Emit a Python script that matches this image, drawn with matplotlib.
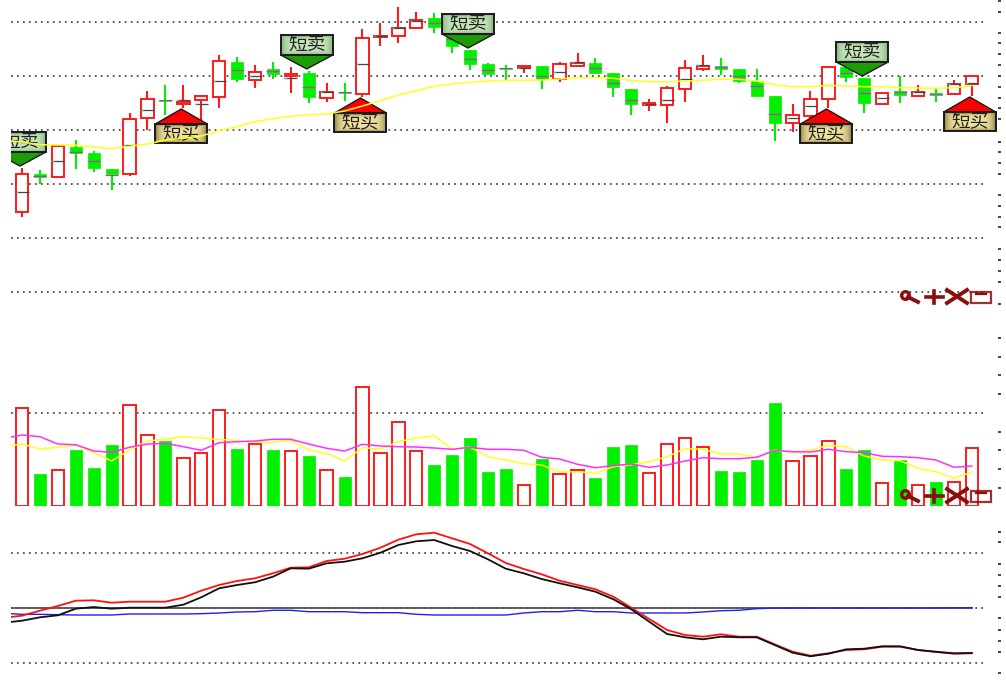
#!/usr/bin/env python3
"""Stock panel: candles, volume and MACD, with the buy/sell flags of the source screen."""

import matplotlib
matplotlib.use("Agg")
import matplotlib.pyplot as plt
import numpy as np
from matplotlib.patches import Polygon, Rectangle

plt.rcParams["font.family"] = ["Noto Sans CJK SC", "DejaVu Sans"]

# The source has no scale labels, so values are levels read off the picture,
# counted downward from the top of the image.
HIGH = [168, 170, 146, 140, 151, 169, 113, 91, 85, 85, 96, 55, 57, 65, 62, 67, 71, 83,
        83, 29, 23, 7, 12, 13, 35, 50, 63, 65, 65, 66, 62, 53, 58, 73, 89, 99, 86,
        60, 55, 58, 69, 69, 96, 104, 91, 67, 67, 78, 93, 76, 85, 89, 80, 76]
LOW = [217, 184, 177, 169, 172, 190, 176, 130, 115, 108, 122, 108, 82, 88, 79, 93, 103, 102,
       101, 97, 46, 43, 29, 33, 53, 70, 74, 80, 73, 89, 82, 67, 74, 97, 115, 111, 123,
       102, 71, 75, 83, 96, 141, 132, 123, 108, 82, 113, 104, 103, 97, 102, 94, 96]
BODY_TOP = [174, 174, 146, 147, 153, 169, 119, 99, 99.5, 102, 96, 61, 62, 72, 69, 74, 73, 92,
            91.5, 38, 36, 28, 20, 18, 35, 50, 64, 67.5, 66, 66, 64, 63, 63, 73, 89, 103, 88,
            68, 66, 66, 69, 81, 96, 115, 99, 67, 67, 78, 93, 91, 92, 93, 84, 76]
BODY_BOTTOM = [212, 177, 177, 153, 168, 174, 174, 118, 100.5, 104, 100, 97, 79, 80, 74, 76, 97, 98,
               92.5, 94, 37, 36, 28, 27, 46, 64, 74, 68.5, 68, 79, 79, 66, 73, 87, 104, 105, 105,
               89, 69, 69, 81, 96, 123, 123, 116, 99, 77, 103, 104, 95, 96, 95, 94, 84]
MID = [192, 176, 161, 152, 161, 175, 145, 110, 100, 100, 104, 81, 70, 76, 71, 78, 87, 92,
       92, 64, 36, 28, 21, 23, 39, 59, 70, 68, 68, 76, 72, 62, 68, 83, 100, 104, 100,
       79, 65, 67, 76, 86, 114, 118, 106, 85, 73, 93, 98, 92, 92, 94, 84, 83]
IS_UP = [1, 0, 1, 0, 0, 0, 1, 1, 0, 1, 1, 1, 0, 1, 0, 1, 0, 1,
         0, 1, 1, 1, 1, 0, 0, 0, 0, 0, 1, 0, 1, 1, 0, 0, 0, 1, 1,
         1, 1, 0, 0, 0, 0, 1, 1, 1, 0, 0, 1, 0, 1, 0, 1, 1]
# the moving averages start one bar earlier than the candles
PRICE_MA = [140, 142, 144.7, 145, 145.3, 147, 148.7, 146.3, 144, 140, 138.3, 136, 130.7, 126.7,
            121.7, 118.7, 116.3, 114.7, 114, 111, 106, 100.7, 95, 90.7, 86.3, 84, 82.3, 81,
            80.3, 80.3, 80, 79, 77.7, 77.7, 78.3, 80.3, 81.7, 82, 81, 80.3, 79.3, 79.3, 81,
            84.7, 86.7, 86.7, 85.3, 86, 86.7, 86.7, 87.7, 88, 88.3, 87.7, 85.7]
SELL_FLAGS = [0, 16, 25, 47]
BUY_FLAGS = [9, 19, 45, 53]

VOLUME_TOP = [408, 474, 470, 450, 468, 445, 405, 435, 441, 458, 453, 410, 449, 444, 450, 451, 456, 470,
              477, 387, 453, 422, 451, 465, 455, 438, 472, 469, 485, 459, 474, 470, 478, 447, 445, 473, 444,
              438, 447, 471, 472, 460, 403, 461, 456, 441, 469, 450, 483, 460, 485, 482, 482, 448]
VOLUME_MA_FAST = [446.7, 444, 449, 447.3, 445, 452.7, 461, 450, 441, 439, 436.7, 438, 439.3, 440.7, 442.3,
                  442.3, 440.3, 450, 453.3, 461, 447.7, 449, 441.7, 438, 435.7, 449.3, 447, 456.7, 460,
                  463.7, 465, 472, 471.7, 473.3, 466.7, 464.7, 461.7, 456.7, 448.7, 449.3, 454, 454, 457.3,
                  450, 452.7, 450, 445.3, 446.7, 456, 460, 460.7, 468.3, 471.7, 478.3, 472]
VOLUME_MA_SLOW = [438.3, 435, 436.7, 444, 444.7, 451, 452.3, 447.3, 444, 443.3, 446.7, 450.3, 442.7, 441.7,
                  441, 439.3, 439.3, 444, 448.3, 451, 444.3, 446, 446.7, 447, 448, 449.3, 447.3, 449.3,
                  449.3, 450.3, 457.3, 459, 464.3, 467.7, 465.7, 464, 467.3, 465, 461, 457.7, 458.7, 458.7,
                  457.3, 450.3, 451.7, 452, 449.3, 451.7, 452.7, 456.3, 456.7, 457.7, 460, 467.3, 466]

MACD_RED = [617.7, 615.7, 610.7, 606, 600.7, 600.3, 602.7, 601.7, 601.7, 601.7, 597.7, 590.7, 585, 581,
            578.3, 573.3, 567.7, 567.3, 561, 558.7, 554, 547.7, 539.7, 534.3, 532.7, 538.3, 544, 553.3,
            563, 569, 574.3, 580.7, 585, 589.3, 596.7, 607.7, 619, 630, 635, 636.7, 634.3, 636.7,
            636.7, 644.3, 651.7, 655.7, 653.3, 650, 649.3, 646.7, 646.7, 650, 652, 653.7, 653.3]
MACD_BLACK = [622.7, 620.7, 617.3, 615.3, 608.7, 607, 608.7, 607.7, 607.7, 607.7, 604.7, 597.3, 588.3, 585,
              582.3, 576.7, 568.3, 568.7, 563.3, 561.7, 558.3, 552.7, 545, 541.3, 540, 546, 551, 559.3,
              568.7, 573.3, 579, 583.3, 587.3, 591.7, 599.3, 609.3, 621.7, 634, 637.3, 639.3, 636.7, 637.3,
              637.3, 645, 652.7, 656.3, 653.7, 649.3, 648.7, 646.3, 646.3, 650, 651.7, 653.3, 653]
MACD_BLUE = [613.3, 614.3, 614.3, 614.7, 615, 615, 615, 614, 614, 614, 614, 613.7, 613, 612, 611.7,
             610.3, 610.3, 611.7, 611.7, 611.7, 612.7, 612.7, 612.7, 614.3, 615, 615, 615, 615, 615,
             613, 611.7, 611.7, 610.3, 611.7, 611.7, 613, 613, 613, 613, 612, 610.7, 610.3, 608.7,
             608, 608, 608, 608, 608, 608, 608, 608, 608, 608, 607.7, 607.7]

PRICE_GRID = [22, 76, 130, 184, 238, 292]
VOLUME_GRID = [413]
MACD_GRID = [553, 607.7, 663]
MACD_ZERO = 607.7
VOLUME_BASE = 505.5

PRICE_TICKS = [1, 12, 33, 43, 54, 65, 76, 87, 98, 108, 119, 142, 152, 163, 174, 195, 206, 217,
               227, 249, 260, 271, 282]
VOLUME_TICKS = [304, 338, 357, 375, 394, 432, 450, 469, 488]
MACD_TICKS = [532, 542, 564, 575, 586, 597, 618, 630, 641, 652, 673]

# layout, in pixels of the 1006x682 image
W, H = 1006, 682
LEFT, RIGHT = 11, 998
GRID_END = 985
X0, STEP = 22, 17.92
PANES = [(0, 295), (295, 506), (506, 682)]

RED = "#ff1a1a"
GREEN = "#00f000"
DARK_RED = "#8b0d0d"


def to_x(px):
    return (px - X0) / STEP


def make_pane(fig, top, bottom, ticks, grid):
    ax = fig.add_axes([LEFT / W, 1 - bottom / H, (RIGHT - LEFT) / W, (bottom - top) / H])
    ax.set_xlim(to_x(LEFT), to_x(RIGHT))
    ax.set_ylim(bottom, top)
    for spine in ax.spines.values():
        spine.set_visible(False)
    ax.set_xticks([])
    ax.yaxis.tick_right()
    ax.set_yticks(ticks)
    ax.set_yticklabels([])
    ax.tick_params(axis="y", length=2.2, width=1.4, color="#444444")
    ax.hlines(grid, to_x(LEFT), to_x(GRID_END), colors="#444444", lw=1.25,
              linestyles=(0, (1.0, 2.45)), zorder=1)
    return ax


def gradient_box(ax, x0, x1, y0, y1, center, edge):
    # light middle fading to a darker rim, like the bitmap flags
    u = np.linspace(-1, 1, 40)
    v = np.linspace(-1, 1, 20)
    d = np.clip(np.maximum(np.abs(u)[None, :] ** 5, np.abs(v)[:, None] ** 4), 0, 1)[..., None]
    c0 = np.array(matplotlib.colors.to_rgb(center))
    c1 = np.array(matplotlib.colors.to_rgb(edge))
    ax.imshow(c0 * (1 - d) + c1 * d, extent=(x0, x1, y1, y0), aspect="auto",
              interpolation="bilinear", zorder=3)
    ax.add_patch(Rectangle((x0, y0), x1 - x0, y1 - y0, fill=False, ec="#1a1a1a", lw=1.4, zorder=3.2))


def draw_flag(ax, i, tip, kind):
    half = 26 / STEP
    i = i - 2 / STEP  # the bitmap sits a touch left of its bar
    if kind == "sell":
        box = (tip - 34, tip - 14)
        tri = [(i - half, tip - 14), (i + half, tip - 14), (i, tip)]
        label, tri_col, center, edge = "短卖", "#1c9c06", "#c6e6ba", "#8cb684"
    else:
        box = (tip + 15, tip + 34)
        tri = [(i - half, tip + 15), (i + half, tip + 15), (i, tip)]
        label, tri_col, center, edge = "短买", "#ff0000", "#efe29e", "#94854c"
    ax.add_patch(Polygon(tri, closed=True, fc=tri_col, ec="#1a1a1a", lw=1.0, zorder=3))
    gradient_box(ax, i - half, i + half, box[0], box[1], center, edge)
    ax.text(i, (box[0] + box[1]) / 2, label, ha="center", va="center", fontsize=13.5,
            color="#222222", zorder=3.5, clip_on=True)


def draw_candles(ax):
    xs = np.arange(len(HIGH))
    up = np.array(IS_UP, dtype=bool)
    high, low = np.array(HIGH), np.array(LOW)
    top, bot = np.array(BODY_TOP), np.array(BODY_BOTTOM)
    mid = np.array(MID)
    ax.vlines(xs[up], high[up], low[up], colors=RED, lw=1.5, zorder=2)
    ax.vlines(xs[~up], high[~up], low[~up], colors=GREEN, lw=1.5, zorder=2)
    ax.bar(xs[up], (bot - top)[up], bottom=top[up], width=12.5 / STEP,
           facecolor="white", edgecolor=RED, lw=1.4, zorder=2.1)
    ax.bar(xs[~up], (bot - top)[~up], bottom=top[~up], width=12 / STEP,
           facecolor=GREEN, edgecolor=GREEN, lw=0.5, zorder=2.1)
    half = 6.5 / STEP
    ax.hlines(mid[up], xs[up] - half, xs[up] + half, colors="#444444", lw=0.9, zorder=2.2)
    ax.hlines(mid[up], xs[up] - half, xs[up] - half + 2.5 / STEP, colors="#30c0c8", lw=0.9, zorder=2.3)
    ax.hlines(mid[~up], xs[~up] - half, xs[~up] + half, colors="#b048a8", lw=0.9, zorder=2.2)


def draw_toolbar(ov, row):
    # magnifier, plus, cross and window icons sitting over each pane
    ov.plot([905], [row - 1], "o", ms=5.5, mfc="none", mec=DARK_RED, mew=2.4, zorder=6)
    ov.plot([908, 918], [row + 1, row + 6], color=DARK_RED, lw=2.8, zorder=6)
    ov.plot([926, 943], [row + 1, row + 1], color=DARK_RED, lw=2.6, zorder=6)
    ov.plot([934.5, 934.5], [row - 5, row + 7], color=DARK_RED, lw=2.6, zorder=6)
    ov.plot([947, 967], [row - 6, row + 7], color=DARK_RED, lw=2.8, zorder=6)
    ov.plot([947, 967], [row + 7, row - 6], color=DARK_RED, lw=2.8, zorder=6)
    ov.add_patch(Rectangle((971, row - 4), 20, 11, fill=False, ec=DARK_RED, lw=1.6, alpha=0.85, zorder=6))
    ov.plot([976, 986], [row - 2, row - 2], color=DARK_RED, lw=1.6, zorder=6)


def main():
    fig = plt.figure(figsize=(W / 100, H / 100), dpi=100, facecolor="white")

    price = make_pane(fig, *PANES[0], PRICE_TICKS, PRICE_GRID)
    draw_candles(price)
    for i in SELL_FLAGS:
        draw_flag(price, i, HIGH[i] - 2, "sell")
    for i in BUY_FLAGS:
        draw_flag(price, i, LOW[i] + 1, "buy")
    ma_x = np.arange(-1, len(HIGH))
    price.plot(ma_x, PRICE_MA, color="#ffff20", lw=1.1, zorder=4)
    price.set_xlim(to_x(LEFT), to_x(RIGHT))
    price.set_ylim(PANES[0][1], PANES[0][0])

    vol = make_pane(fig, *PANES[1], VOLUME_TICKS, VOLUME_GRID)
    xs = np.arange(len(VOLUME_TOP))
    top = np.array(VOLUME_TOP, dtype=float)
    up = np.array(IS_UP, dtype=bool)
    vol.bar(xs[up], (VOLUME_BASE - top)[up], bottom=top[up], width=12.5 / STEP,
            facecolor="white", edgecolor=RED, lw=1.4, zorder=2)
    vol.bar(xs[~up], (VOLUME_BASE - top)[~up], bottom=top[~up], width=12 / STEP,
            facecolor=GREEN, edgecolor=GREEN, lw=0.5, zorder=2)
    vol.plot(ma_x, VOLUME_MA_FAST, color="#ffff20", lw=1.1, zorder=3)
    vol.plot(ma_x, VOLUME_MA_SLOW, color="#ff30ff", lw=1.1, zorder=3.1)

    macd = make_pane(fig, *PANES[2], MACD_TICKS, MACD_GRID)
    macd.plot([to_x(LEFT), 53], [MACD_ZERO, MACD_ZERO], color="#555555", lw=1.3, zorder=2)
    macd.plot(ma_x, MACD_BLUE, color="#2020f0", lw=1.0, zorder=3)
    macd.plot(ma_x, MACD_RED, color="#ff1010", lw=1.3, zorder=3.1)
    macd.plot(ma_x, MACD_BLACK, color="#111111", lw=1.3, zorder=3.2)

    overlay = fig.add_axes([0, 0, 1, 1], facecolor="none")
    overlay.set_xlim(0, W)
    overlay.set_ylim(H, 0)
    overlay.axis("off")
    draw_toolbar(overlay, 296)
    draw_toolbar(overlay, 495)

    fig.savefig("out.png", dpi=100, facecolor="white")
    plt.close(fig)


if __name__ == "__main__":
    main()
